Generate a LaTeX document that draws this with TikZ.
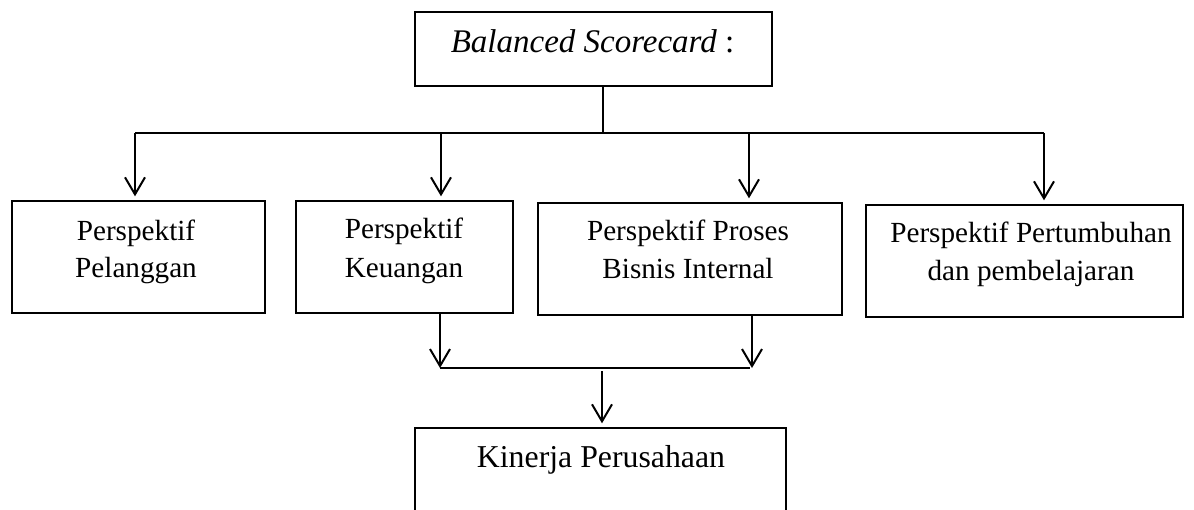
\documentclass[tikz,border=0pt]{standalone}
\usepackage{fontspec}
\setmainfont{Liberation Serif}
\usetikzlibrary{arrows.meta}
\begin{document}
\begin{tikzpicture}[x=0.5pt,y=-0.5pt,
  box/.style={draw,rectangle,line width=0.7pt,inner sep=0pt},
  txt/.style={inner sep=0pt,anchor=base,font=\fontsize{14.6}{18}\selectfont},
  conn/.style={line width=1pt},
  arr/.style={line width=1pt,-{Straight Barb[length=8.5pt,width=10pt,line width=1pt]},shorten >=2pt}]
\clip (0,0) rectangle (1194,509);
\fill[white] (0,0) rectangle (1194,509);
% boxes
\node[box,minimum width=178.5pt,minimum height=37pt] (T) at (593.5,49) {};
\node[box,minimum width=126.5pt,minimum height=56pt] (b1) at (138.5,257) {};
\node[box,minimum width=108.5pt,minimum height=56pt] (b2) at (404.5,257) {};
\node[box,minimum width=152pt,minimum height=56pt] (b3) at (690,259) {};
\node[box,minimum width=158.5pt,minimum height=56pt] (b4) at (1024.5,261) {};
\node[box,minimum width=185.5pt,minimum height=56pt] (K) at (600.5,484) {};
% texts
\node[txt,font=\fontsize{16.5}{20}\selectfont] (tT) at (592.5,52) {\itshape Balanced Scorecard\upshape{} :};
\node[txt] (t1a) at (136,240) {Perspektif};
\node[txt] (t1b) at (136,277) {Pelanggan};
\node[txt] (t2a) at (404,238) {Perspektif};
\node[txt] (t2b) at (404,277) {Keuangan};
\node[txt] (t3a) at (688,240) {Perspektif Proses};
\node[txt] (t3b) at (688,278) {Bisnis Internal};
\node[txt] (t4a) at (1031,242) {Perspektif Pertumbuhan};
\node[txt] (t4b) at (1031,280) {dan pembelajaran};
\node[txt,font=\fontsize{15.9}{20}\selectfont] (tK) at (601,467) {Kinerja Perusahaan};
% top connectors
\coordinate (Ts) at (603,86);
\coordinate (J) at (603,133);
\coordinate (h1) at (135,133);
\coordinate (h2) at (441,133);
\coordinate (h3) at (749,133);
\coordinate (h4) at (1044,133);
\draw[conn] (Ts) -- (J);
\draw[conn] (h1) -- (h4);
\draw[arr] (h1) -- (h1 |- b1.north);
\draw[arr] (h2) -- (h2 |- b2.north);
\draw[arr] (h3) -- (h3 |- b3.north);
\draw[arr] (h4) -- (h4 |- b4.north);
% bottom connectors
\coordinate (s2) at (440,313);
\coordinate (s3) at (752,315);
\coordinate (m2) at (440,368);
\coordinate (m3) at (750,368);
\coordinate (mj) at (602,371);
\draw[arr,shorten >=0pt] (s2) -- (m2);
\draw[arr,shorten >=0pt] (s3) -- (s3 |- m3);
\draw[conn] (m2) -- (m3);
\draw[arr] (mj) -- (mj |- K.north);
\end{tikzpicture}
\end{document}
